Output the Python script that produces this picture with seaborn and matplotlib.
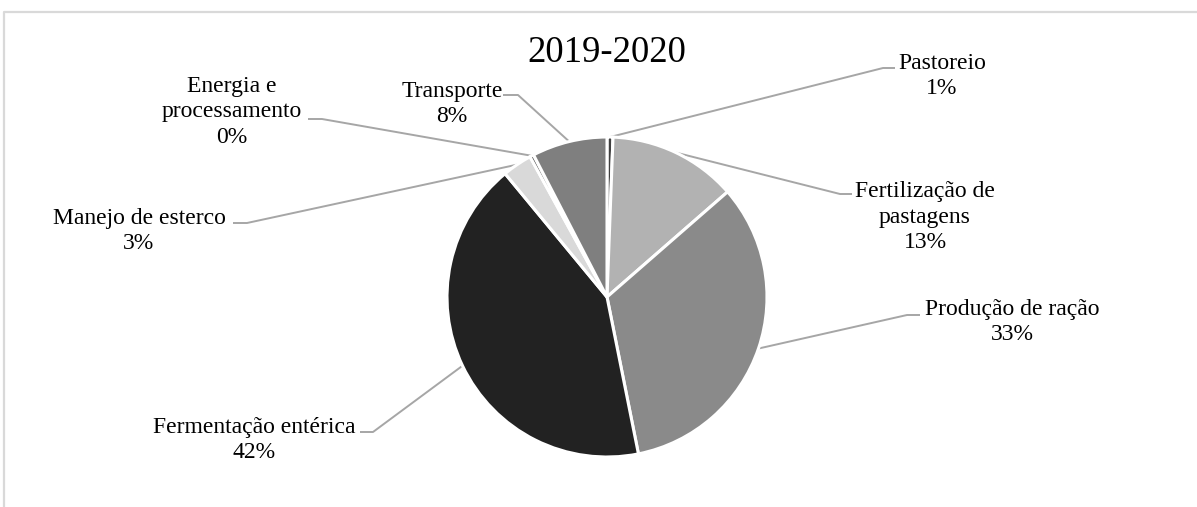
import matplotlib
matplotlib.use("Agg")
import matplotlib.pyplot as plt
import numpy as np
import seaborn as sns

sns.set_theme(style="white")
plt.rcParams["font.family"] = ["Liberation Serif", "DejaVu Serif"]

# Emission sources (clockwise from 12 o'clock) and their shares
categories = [
    "Pastoreio",
    "Fertilização de\npastagens",
    "Produção de ração",
    "Fermentação entérica",
    "Manejo de esterco",
    "Energia e\nprocessamento",
    "Transporte",
]
shares = [0.6, 13.0, 33.3, 42.2, 3.0, 0.4, 7.6]
colors = ["#3f3f3f", "#b2b2b2", "#8a8a8a", "#222222", "#d9d9d9", "#5a5a5a", "#7f7f7f"]
title = "2019-2020"

# Label block centres and elbow points of the leader lines (pixel layout)
label_pos = [(942, 76), (925, 217), (1012, 322), (254, 440), (139, 231), (232, 112), (452, 104)]
elbow_pos = [(883, 68), (840, 194), (907, 315), (373, 432), (247, 223), (322, 119), (518, 95)]
text_end = [(895, 68), (852, 194), (920, 315), (360, 432), (233, 223), (308, 119), (503, 95)]

W, H = 1197, 507
fig = plt.figure(figsize=(W / 100, H / 100), dpi=100)
ax = fig.add_axes([0, 0, 1, 1])

cx, cy, r = 607, H - 297, 160
wedges, _ = ax.pie(
    shares,
    colors=colors,
    startangle=90,
    counterclock=False,
    center=(cx, cy),
    radius=r,
    wedgeprops=dict(edgecolor="white", linewidth=2.2),
)
ax.set_xlim(0, W)
ax.set_ylim(0, H)
ax.set_aspect("equal")
ax.axis("off")

total = sum(shares)
for w, name, (lx, ly), (ex, ey), (tx, ty), v in zip(
    wedges, categories, label_pos, elbow_pos, text_end, shares
):
    mid = np.deg2rad((w.theta1 + w.theta2) / 2)
    sx = cx + r * np.cos(mid)
    sy = cy + r * np.sin(mid)
    ax.plot([sx, ex, tx], [sy, H - ey, H - ty], color="#a6a6a6", lw=1.4,
            solid_capstyle="butt", zorder=0)
    ax.text(lx, H - ly, f"{name}\n{v / total * 100:.0f}%", ha="center", va="center",
            multialignment="center", fontsize=17, color="#000000", linespacing=1.26)

ax.text(cx, H - 53, title, ha="center", va="center", fontsize=26.5, color="#000000")

# Chart-area border
ax.plot([3.5, 3.5, W], [0, H - 11.5, H - 11.5], color="#d9d9d9", lw=1.6, clip_on=False)

fig.savefig("out.png", dpi=100, facecolor="white")
